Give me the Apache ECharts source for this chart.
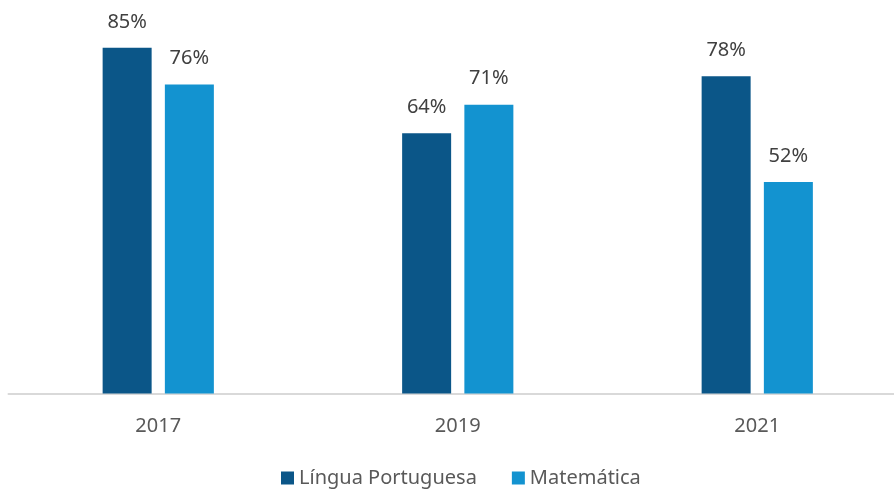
<!DOCTYPE html>
<html>
<head>
<meta charset="utf-8">
<script src="https://cdn.jsdelivr.net/npm/echarts@6/dist/echarts.min.js"></script>
<style>
  html, body { margin: 0; padding: 0; background: #fff; }
  #chart { width: 894px; height: 490px; }
</style>
</head>
<body>
<div id="chart"></div>
<script>
var years = ['2017', '2019', '2021'];
var portugues = [85, 64, 78];
var matematica = [76, 71, 52];

var chart = echarts.init(document.getElementById('chart'));

var labelStyle = {
  show: true,
  position: 'top',
  distance: 16,
  formatter: '{c}%',
  color: '#404040',
  fontSize: 20,
  fontFamily: 'Noto Sans'
};

var option = {
  animation: false,
  grid: [
    // bars: category ticks sit on the bar group centres
    { left: 158.25, right: 136.75, top: 27.5, bottom: 96.5, containLabel: false },
    // full-width baseline
    { left: 8.5, right: 0, top: 27.5, bottom: 96.5, containLabel: false }
  ],
  legend: {
    top: 463,
    left: 276,
    itemWidth: 13,
    itemHeight: 13,
    itemGap: 35,
    icon: 'rect',
    textStyle: { color: '#595959', fontSize: 20, fontFamily: 'Noto Sans' },
    data: ['Língua Portuguesa', 'Matemática']
  },
  xAxis: [
    {
      type: 'category',
      gridIndex: 0,
      data: years,
      boundaryGap: false,
      axisLine: { show: false },
      axisTick: { show: false },
      splitLine: { show: false },
      axisLabel: { color: '#595959', fontSize: 20, fontFamily: 'Noto Sans', margin: 23 }
    },
    {
      type: 'category',
      gridIndex: 1,
      data: [''],
      axisLine: { lineStyle: { color: '#d9d9d9', width: 2 } },
      axisTick: { show: false },
      axisLabel: { show: false }
    }
  ],
  yAxis: [
    { type: 'value', gridIndex: 0, min: 0, max: 90, show: false },
    { type: 'value', gridIndex: 1, min: 0, max: 90, show: false }
  ],
  series: [
    {
      name: 'Língua Portuguesa',
      type: 'bar',
      data: portugues,
      barWidth: 49,
      barGap: '27%',
      z: 3,
      itemStyle: { color: '#0B5688' },
      label: labelStyle
    },
    {
      name: 'Matemática',
      type: 'bar',
      data: matematica,
      barWidth: 49,
      barGap: '27%',
      z: 3,
      itemStyle: { color: '#1393D0' },
      label: labelStyle
    }
  ]
};

chart.setOption(option);
</script>
</body>
</html>
